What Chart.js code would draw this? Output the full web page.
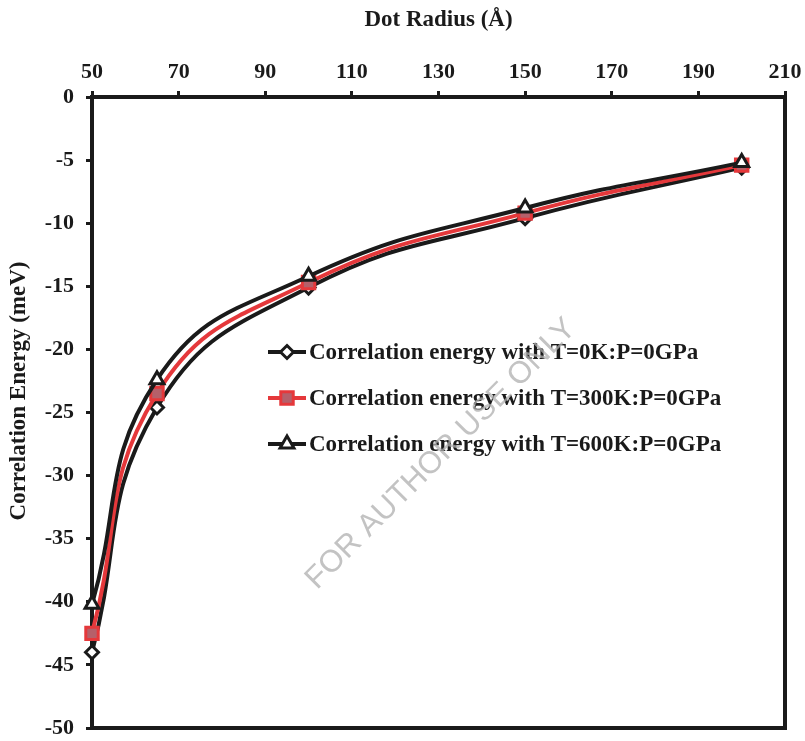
<!DOCTYPE html>
<html><head><meta charset="utf-8">
<script src="https://cdn.jsdelivr.net/npm/chart.js@4/dist/chart.umd.min.js"></script>
<style>html,body{margin:0;padding:0;background:#fff}#wrap{width:805px;height:741px}</style>
</head><body><div id="wrap"><canvas id="c" width="805" height="741"></canvas></div>
<script>
const radii = [50, 65, 100, 150, 200];
const e0K = [-44.0, -24.6, -15.1, -9.6, -5.6];
const e300K = [-42.5, -23.5, -14.7, -9.2, -5.4];
const e600K = [-40.2, -22.4, -14.2, -8.8, -5.2];
const xTicks = [50, 70, 90, 110, 130, 150, 170, 190, 210];
const yTicks = [0, -5, -10, -15, -20, -25, -30, -35, -40, -45, -50];
const seriesLabels = [
  'Correlation energy with T=0K:P=0GPa',
  'Correlation energy with T=300K:P=0GPa',
  'Correlation energy with T=600K:P=0GPa'
];
const xTitle = 'Dot Radius (Å)';
const yTitle = 'Correlation Energy (meV)';
const watermark = 'FOR AUTHOR USE ONLY';

const FONT = '"Liberation Serif", "Times New Roman", serif';
const toXY = arr => radii.map((x, i) => ({x: x, y: arr[i]}));

const styles = [
  {line: '#1a1a1a', fill: '#ffffff', border: '#1a1a1a', shape: 'rectRot', r: 6.5, order: 3},
  {line: '#e5383b', fill: '#b5606a', border: '#e5383b', shape: 'rect', r: 8.8, order: 2},
  {line: '#1a1a1a', fill: '#ffffff', border: '#1a1a1a', shape: 'triangle', r: 8, order: 1}
];
const seriesData = [e0K, e300K, e600K];

const datasets = seriesData.map((d, i) => ({
  label: seriesLabels[i],
  data: toXY(d),
  order: styles[i].order,
  clip: false,
  borderColor: styles[i].line,
  borderWidth: 4,
  backgroundColor: styles[i].fill,
  pointStyle: styles[i].shape,
  pointRadius: styles[i].r,
  pointBorderWidth: 3,
  pointBorderColor: styles[i].border,
  pointBackgroundColor: styles[i].fill,
  tension: 0.45,
  fill: false
}));

function drawMarker(ctx, shape, x, y, r, fill, stroke) {
  ctx.save();
  ctx.lineWidth = 3;
  ctx.fillStyle = fill;
  ctx.strokeStyle = stroke;
  ctx.beginPath();
  if (shape === 'rectRot') {
    ctx.moveTo(x, y - r); ctx.lineTo(x + r, y); ctx.lineTo(x, y + r); ctx.lineTo(x - r, y); ctx.closePath();
  } else if (shape === 'rect') {
    const s = r * Math.SQRT1_2;
    ctx.rect(x - s, y - s, 2 * s, 2 * s);
  } else {
    ctx.moveTo(x, y - r); ctx.lineTo(x + r * 0.866, y + r * 0.5); ctx.lineTo(x - r * 0.866, y + r * 0.5); ctx.closePath();
  }
  ctx.fill(); ctx.stroke();
  ctx.restore();
}

const overlay = {
  id: 'overlay',
  beforeDatasetsDraw(chart) {
    const ctx = chart.ctx;
    const a = chart.chartArea;
    // frame (drawn under the series so edge markers sit on top of it)
    ctx.save();
    ctx.strokeStyle = '#1a1a1a';
    ctx.lineWidth = 4;
    ctx.strokeRect(a.left, a.top, a.right - a.left, a.bottom - a.top);
    ctx.restore();
  },
  afterDraw(chart) {
    const ctx = chart.ctx;
    // y title
    ctx.save();
    ctx.translate(19, 391);
    ctx.rotate(-Math.PI / 2);
    ctx.fillStyle = '#1a1a1a';
    ctx.font = 'bold 23px ' + FONT;
    ctx.textAlign = 'center';
    ctx.textBaseline = 'middle';
    ctx.fillText(yTitle, 0, 0);
    ctx.restore();
    // legend
    const rows = [352, 398, 444];
    rows.forEach((y, i) => {
      const st = styles[i];
      ctx.save();
      ctx.strokeStyle = st.line;
      ctx.lineWidth = 4;
      ctx.beginPath(); ctx.moveTo(268, y); ctx.lineTo(306, y); ctx.stroke();
      ctx.restore();
      drawMarker(ctx, st.shape, 287, y, st.r, st.fill, st.border);
      ctx.save();
      ctx.fillStyle = '#1a1a1a';
      ctx.font = 'bold 23px ' + FONT;
      ctx.textBaseline = 'middle';
      ctx.textAlign = 'left';
      ctx.fillText(seriesLabels[i], 309, y + 1);
      ctx.restore();
    });
    // watermark
    ctx.save();
    ctx.translate(441, 454);
    ctx.rotate(-Math.PI / 4);
    ctx.fillStyle = 'rgba(175,175,175,0.75)';
    ctx.font = '31px "Liberation Sans", Arial, sans-serif';
    ctx.textAlign = 'center';
    ctx.textBaseline = 'middle';
    ctx.fillText(watermark, 0, 0);
    ctx.restore();
  }
};

new Chart(document.getElementById('c'), {
  type: 'line',
  data: {datasets: datasets},
  options: {
    responsive: false,
    animation: false,
    layout: {padding: {left: 0, right: 20, top: 0, bottom: 13}},
    plugins: {legend: {display: false}, tooltip: {enabled: false}},
    scales: {
      x: {
        type: 'linear',
        position: 'top',
        min: 50, max: 210,
        afterBuildTicks: s => { s.ticks = xTicks.map(v => ({value: v})); },
        afterFit: s => { s.height = 97; s.paddingLeft = 0; s.paddingRight = 0; },
        grid: {drawOnChartArea: false, drawTicks: true, tickLength: 6, lineWidth: 3, color: '#1a1a1a'},
        border: {display: true, color: '#1a1a1a', width: 4},
        ticks: {color: '#1a1a1a', font: {family: FONT, size: 22, weight: 'bold'}, padding: 5, maxRotation: 0},
        title: {display: true, text: xTitle, color: '#1a1a1a', font: {family: FONT, size: 23, weight: 'bold'}, padding: {top: 6, bottom: 18}}
      },
      y: {
        type: 'linear',
        min: -50, max: 0,
        afterBuildTicks: s => { s.ticks = yTicks.map(v => ({value: v})); },
        afterFit: s => { s.width = 92; s.paddingTop = 0; s.paddingBottom = 0; },
        grid: {drawOnChartArea: false, drawTicks: true, tickLength: 6, lineWidth: 3, color: '#1a1a1a'},
        border: {display: true, color: '#1a1a1a', width: 4},
        ticks: {color: '#1a1a1a', font: {family: FONT, size: 22, weight: 'bold'}, padding: 12},
        title: {display: false}
      }
    }
  },
  plugins: [overlay]
});
</script>
</body></html>
